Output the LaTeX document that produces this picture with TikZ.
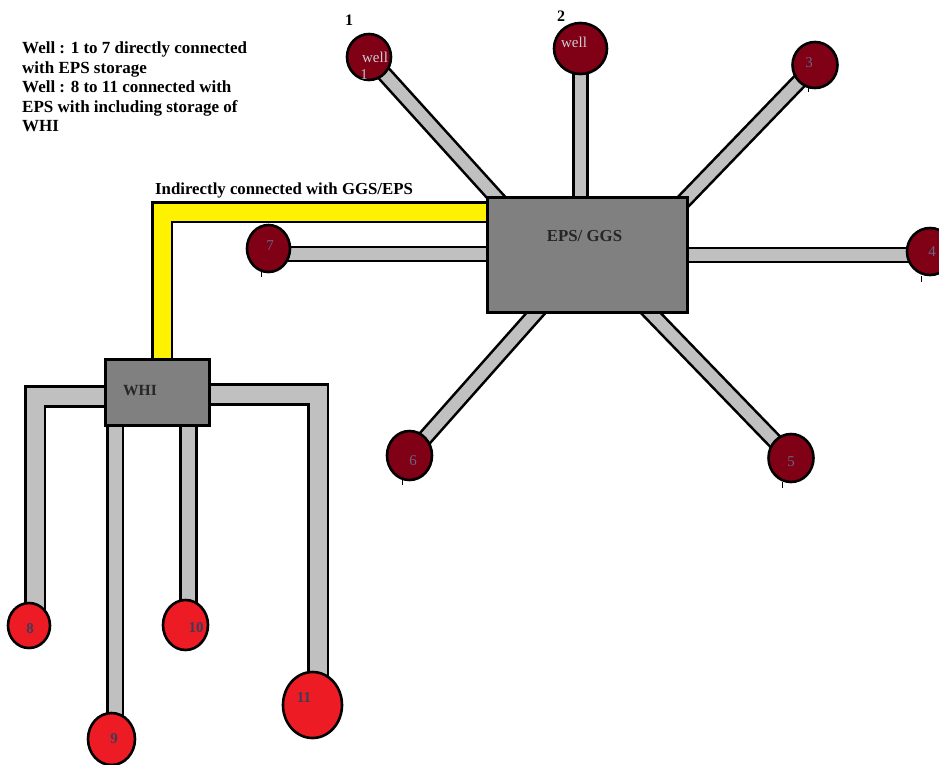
\documentclass[tikz,border=0pt]{standalone}
\usepackage{fontspec}
\setmainfont{Liberation Serif}
\usetikzlibrary{shapes.geometric,backgrounds}
\definecolor{darkwell}{RGB}{128,0,21}
\definecolor{redwell}{RGB}{237,28,36}
\definecolor{pipegray}{RGB}{192,192,192}
\definecolor{boxgray}{RGB}{128,128,128}
\definecolor{pipeyellow}{RGB}{255,242,0}
\definecolor{numtext}{RGB}{60,60,90}
\definecolor{darknum}{RGB}{105,100,135}
\tikzset{
  pipe/.style={draw=black, line width=2.6pt, double=pipegray, double distance=11.5pt, line cap=butt, line join=miter},
  widepipe/.style={pipe, double distance=17pt},
  yellowpipe/.style={draw=black, line width=2.6pt, double=pipeyellow, double distance=17pt, line cap=butt, line join=miter},
  darkwellnode/.style={ellipse, draw=black, line width=2.6pt, fill=darkwell, inner sep=0pt},
  redwellnode/.style={ellipse, draw=black, line width=2.6pt, fill=redwell, inner sep=0pt},
  station/.style={rectangle, draw=black, line width=3pt, fill=boxgray, inner sep=0pt},
  wnum/.style={text=darknum, font=\fontsize{15}{15}\selectfont, inner sep=0pt},
  rnum/.style={text=numtext, font=\bfseries\fontsize{15}{15}\selectfont, inner sep=0pt},
  toplabel/.style={font=\bfseries\fontsize{16}{16}\selectfont, inner sep=0pt},
  tick/.style={draw=black, line width=1pt},
}
\begin{document}
\begin{tikzpicture}[x=1pt,y=-1pt]
\useasboundingbox (0,0) rectangle (939,764);

% stations
\node[station, minimum width=200pt, minimum height=115pt] (eps) at (587.5,254.5) {};
\node[station, minimum width=104pt, minimum height=66pt] (whi) at (157,392) {};
\node[font=\bfseries\fontsize{16.8}{16.8}\selectfont, text=black!85, inner sep=0pt] (epst) at (584.5,236) {EPS/ GGS};
\node[font=\bfseries\fontsize{15.5}{15.5}\selectfont, text=black!85, inner sep=0pt] (whit) at (140,391) {WHI};

% wells 1-7
\node[darkwellnode, minimum width=44pt, minimum height=46pt] (w1) at (369,57) {};
\node[darkwellnode, minimum width=53pt, minimum height=51pt] (w2) at (580.5,48.5) {};
\node[darkwellnode, minimum width=45pt, minimum height=46pt] (w3) at (815,65) {};
\node[darkwellnode, minimum width=46pt, minimum height=47pt] (w4) at (930,251.5) {};
\node[darkwellnode, minimum width=45pt, minimum height=48pt] (w5) at (791,458) {};
\node[darkwellnode, minimum width=45pt, minimum height=49pt] (w6) at (409.5,455.5) {};
\node[darkwellnode, minimum width=43pt, minimum height=47pt] (w7) at (268.5,248.5) {};

% wells 8-11
\node[redwellnode, minimum width=42pt, minimum height=45pt] (w8) at (29,625.5) {};
\node[redwellnode, minimum width=47pt, minimum height=52pt] (w9) at (111.5,739) {};
\node[redwellnode, minimum width=45pt, minimum height=50pt] (w10) at (185.5,625) {};
\node[redwellnode, minimum width=59pt, minimum height=66pt] (w11) at (312.5,705) {};

% pipe end points
\coordinate (p1) at (503,205);
\coordinate (p2) at (580.5,205);
\coordinate (p3) at (680,205);
\coordinate (p4) at (680,255);
\coordinate (p5) at (643,305);
\coordinate (p6) at (543,305);
\coordinate (p7) at (495,254);
\coordinate (c4) at (w4.center |- p4);
\coordinate (c7) at (w7.center |- p7);
\coordinate (ya) at (495,212);
\coordinate (yb) at (162,370);
\coordinate (la) at (115,396.5);
\coordinate (lb) at (35,615);
\coordinate (ra) at (200,394.5);
\coordinate (rb) at (318,690);
\coordinate (q9a) at (115,415);
\coordinate (q9b) at (115,730);
\coordinate (q10a) at (188.5,415);
\coordinate (q10b) at (188.5,615);

\begin{scope}[on background layer]
  \fill[white] (0,0) rectangle (939,764);
  \draw[pipe] (w1.center) -- (p1);
  \draw[pipe] (w2.center) -- (p2);
  \draw[pipe] (w3.center) -- (p3);
  \draw[pipe] (c4) -- (p4);
  \draw[pipe] (w5.center) -- (p5);
  \draw[pipe] (w6.center) -- (p6);
  \draw[pipe] (c7) -- (p7);
  \draw[yellowpipe] (ya) -| (yb);
  \draw[widepipe] (la) -| (lb);
  \draw[widepipe] (ra) -| (rb);
  \draw[pipe, double distance=13pt] (q9a) -- (q9b);
  \draw[pipe, double distance=13pt] (q10a) -- (q10b);
\end{scope}

% labels in wells
\node[wnum, text=white!75!numtext] (l1a) at (375,57) {well};
\node[wnum, text=white!65!numtext] (l1b) at (364,75) {1};
\node[wnum, text=white!75!numtext] (l2a) at (574,42) {well};
\node[wnum] (l3) at (809,63) {3};
\node[wnum] (l4) at (932,252) {4};
\node[wnum] (l5) at (791,462) {5};
\node[wnum] (l6) at (413,461) {6};
\node[wnum] (l7) at (270,246) {7};
\node[rnum] (l8) at (30,629) {8};
\node[rnum] (l9) at (114,739) {9};
\node[rnum] (l10) at (196,628) {10};
\node[rnum] (l11) at (304,698) {11};

% small marks under wells
\draw[tick] (808,87) -- (808,92);
\draw[tick] (921,276) -- (921,282);
\draw[tick] (782,482) -- (782,488);
\draw[tick] (402,479) -- (402,485);
\draw[tick] (261,271) -- (261,277);

% well numbers above
\node[toplabel] (n1) at (349,20) {1};
\node[toplabel] (n2) at (561,16) {2};

% texts
\node[font=\bfseries\fontsize{17}{19.5}\selectfont, align=left, anchor=north west, inner sep=0pt] (note) at (22,41.5)
  {Well : 1 to 7 directly connected\\with EPS storage\\Well : 8 to 11 connected with\\EPS with including storage of\\WHI};
\node[font=\bfseries\fontsize{16.8}{16.8}\selectfont, anchor=west, inner sep=0pt] (ylab) at (155,190) {Indirectly connected with GGS/EPS};
\end{tikzpicture}
\end{document}
